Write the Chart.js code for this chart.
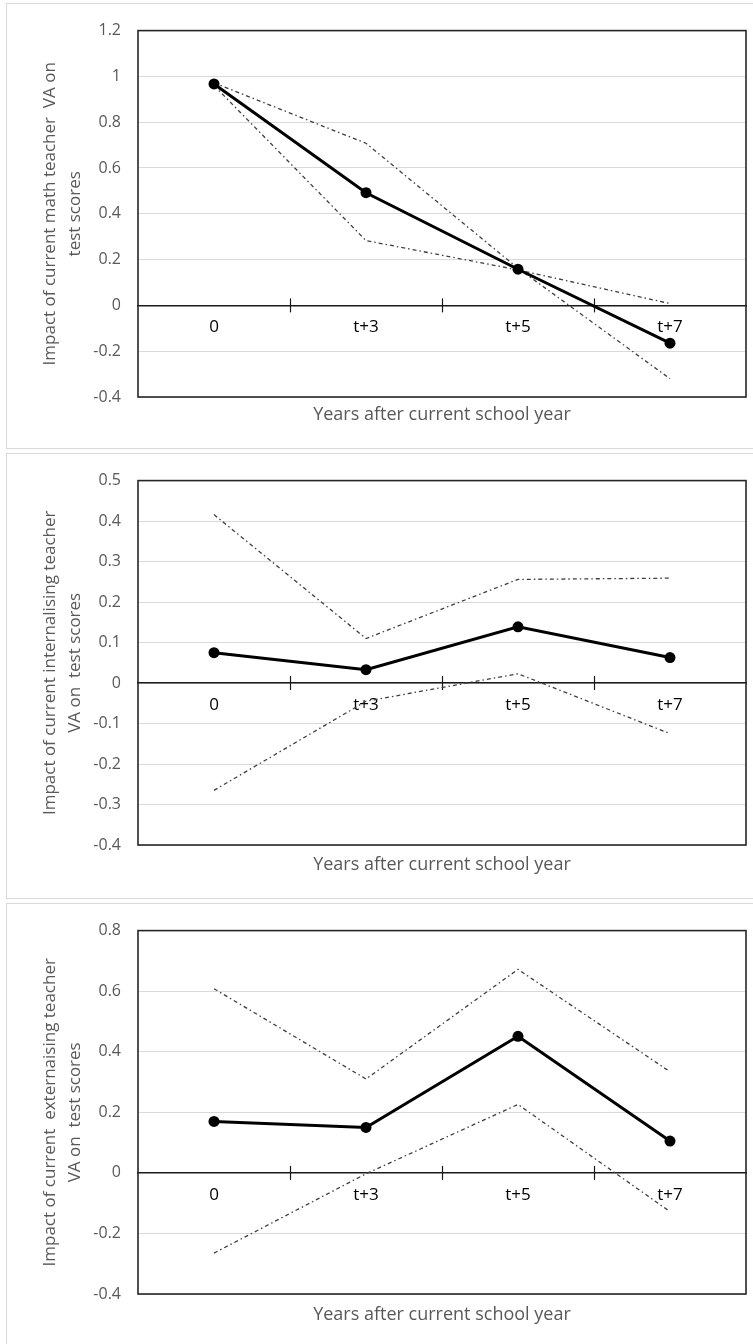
<!DOCTYPE html>
<html>
<head>
<meta charset="utf-8">
<script src="https://cdn.jsdelivr.net/npm/chart.js@4.4.1/dist/chart.umd.min.js"></script>
<style>
  body { margin: 0; background: #fff; width: 753px; height: 1344px; overflow: hidden; position: relative; }
  .panel { position: absolute; left: 6px; width: 770px; height: 446px; border: 1px solid #d9d9d9; box-sizing: border-box; }
  .panel canvas { position: absolute; left: 0; top: 0; }
</style>
</head>
<body>
<div class="panel" style="top:3px"><canvas id="math" width="747" height="444"></canvas></div>
<div class="panel" style="top:453px"><canvas id="internal" width="747" height="444"></canvas></div>
<div class="panel" style="top:903px"><canvas id="external" width="747" height="444"></canvas></div>

<script>
// Categories (years after current school year)
const categories = ['0', 't+3', 't+5', 't+7'];

// Math teacher VA
const mathEst   = [0.967, 0.492, 0.158, -0.165];
const mathBandA = [0.972, 0.708, 0.162, -0.320];
const mathBandB = [0.960, 0.283, 0.155, 0.008];

// Internalising teacher VA
const intEst   = [0.075, 0.033, 0.139, 0.063];
const intUpper = [0.416, 0.110, 0.256, 0.259];
const intLower = [-0.265, -0.045, 0.023, -0.125];

// Externalising teacher VA
const extEst   = [0.170, 0.150, 0.451, 0.105];
const extUpper = [0.608, 0.310, 0.672, 0.334];
const extLower = [-0.265, -0.003, 0.226, -0.128];

// y axis ranges [min, max, step]
const mathRange = [-0.4, 1.2, 0.2];
const intRange  = [-0.4, 0.5, 0.1];
const extRange  = [-0.4, 0.8, 0.2];

const xTitle = 'Years after current school year';
const gray = '#595959';

// outline of the plot area + tick marks crossing the zero line
const frame = {
    id: 'frame',
    beforeDatasetsDraw(chart) {
        const {ctx, chartArea: a, scales: {x, y}} = chart;
        ctx.save();
        ctx.strokeStyle = '#262626';
        ctx.lineWidth = 1.6;
        ctx.strokeRect(a.left, a.top, a.right - a.left, a.bottom - a.top);
        const y0 = y.getPixelForValue(0);
        ctx.strokeStyle = '#1a1a1a';
        ctx.lineWidth = 1.2;
        for (let i = 1; i < categories.length; i++) {
            const px = Math.round((x.getPixelForValue(i - 1) + x.getPixelForValue(i)) / 2) + 0.5;
            ctx.beginPath();
            ctx.moveTo(px, y0 - 7);
            ctx.lineTo(px, y0 + 7);
            ctx.stroke();
        }
        ctx.restore();
    }
};

function band(data) {
    return {
        data: data,
        borderColor: '#3f3f3f',
        borderWidth: 1.3,
        borderDash: [4, 3, 1.5, 3],
        pointRadius: 0,
        order: 2
    };
}

function makeChart(id, est, b1, b2, range, titleLines, pad) {
    new Chart(document.getElementById(id), {
        type: 'line',
        data: {
            labels: categories,
            datasets: [
                {
                    data: est,
                    borderColor: '#000',
                    borderWidth: 3,
                    pointRadius: 5.5,
                    pointBackgroundColor: '#000',
                    pointBorderWidth: 0,
                    order: 1
                },
                band(b1),
                band(b2)
            ]
        },
        options: {
            responsive: false,
            animation: false,
            devicePixelRatio: 1,
            layout: { padding: { left: 0, right: 8, top: pad.top, bottom: 0 } },
            plugins: { legend: { display: false }, tooltip: { enabled: false } },
            scales: {
                x: {
                    type: 'category',
                    position: { y: 0 },
                    offset: true,
                    grid: { display: false },
                    border: { display: true, color: '#1a1a1a', width: 1.5 },
                    ticks: { color: '#000', padding: 4, font: { family: 'Open Sans', size: 17 } }
                },
                xt: {
                    type: 'category',
                    position: 'bottom',
                    grid: { display: false },
                    border: { display: false },
                    ticks: { display: false },
                    title: {
                        display: true, text: xTitle, color: gray,
                        font: { family: 'Open Sans', size: 18 },
                        padding: { top: 0, bottom: pad.titleBottom }
                    },
                    afterFit: s => { s.height = pad.bottom; }
                },
                y: {
                    min: range[0], max: range[1],
                    grid: { color: '#d9d9d9', lineWidth: 1, drawTicks: false },
                    border: { display: false },
                    ticks: {
                        stepSize: range[2], color: gray, padding: 17,
                        font: { family: 'Open Sans', size: 16 },
                        callback: v => String(Math.round(v * 10) / 10)
                    },
                    title: {
                        display: true, text: titleLines, color: gray,
                        font: { family: 'Open Sans', size: 17, lineHeight: '25px' },
                        padding: { top: 31, bottom: 0 }
                    },
                    afterFit: s => { s.width = 131; }
                }
            }
        },
        plugins: [frame]
    });
}

makeChart('math', mathEst, mathBandA, mathBandB, mathRange,
    ['Impact of current math teacher  VA on', 'test scores'],
    { top: 22, bottom: 51, titleBottom: 22 });
makeChart('internal', intEst, intUpper, intLower, intRange,
    ['Impact of current internalising teacher', 'VA on  test scores'],
    { top: 21, bottom: 53, titleBottom: 22 });
makeChart('external', extEst, extUpper, extLower, extRange,
    ['Impact of current  externaising teacher', 'VA on  test scores'],
    { top: 20, bottom: 54, titleBottom: 22 });
</script>
</body>
</html>
